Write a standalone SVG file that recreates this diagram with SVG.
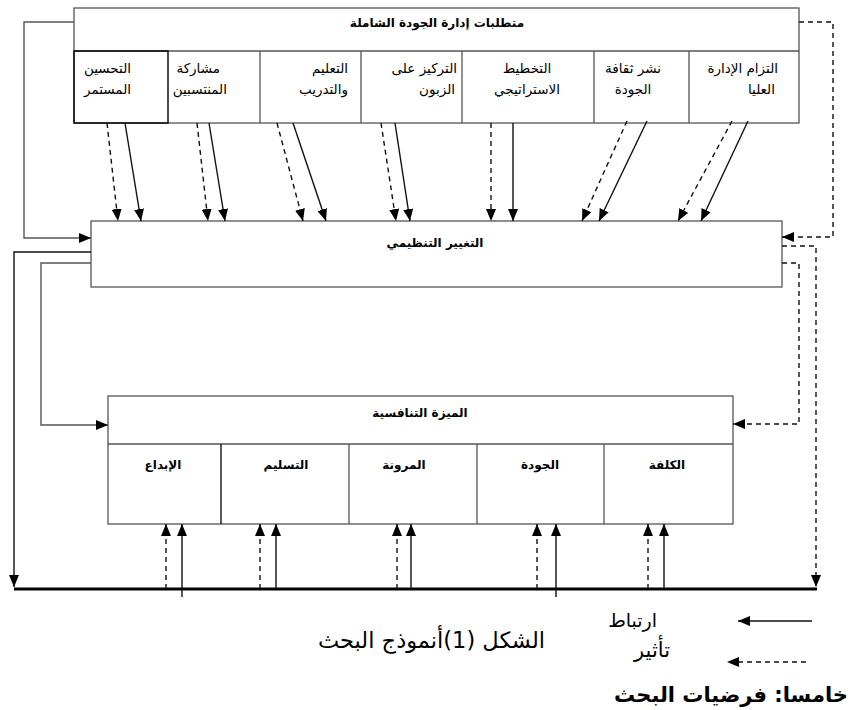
<svg xmlns="http://www.w3.org/2000/svg" width="857" height="710" viewBox="0 0 857 710">
<style>
.box{fill:#fff;stroke:#555;stroke-width:1.3}
.div{fill:none;stroke:#555;stroke-width:1.3}
.t{font-family:"DejaVu Sans",sans-serif;font-size:12px;fill:#000}
.c{font-size:13.5px}
.b{font-weight:bold}
.s{fill:none;stroke:#111;stroke-width:1.4}
.d{fill:none;stroke:#111;stroke-width:1.4;stroke-dasharray:5 4}
.g{fill:none;stroke:#555;stroke-width:1.4}
.sa{marker-end:url(#ah)}
.big{font-family:"DejaVu Sans",sans-serif;font-size:19px;fill:#000}
.cap{font-size:22.5px}
.ttl{font-size:21px}
</style>
<defs>
<marker id="ah" viewBox="0 0 12 10" refX="12" refY="5" markerWidth="12" markerHeight="10" markerUnits="userSpaceOnUse" orient="auto">
<path d="M0,0 L12,5 L0,10 z" fill="#000" stroke="none"/>
</marker>
</defs>

<g id="tqm">
<rect class="box" x="74" y="8" width="725" height="115"/>
<line class="div" x1="74" y1="51" x2="799" y2="51"/>
<line class="div" x1="260" y1="51" x2="260" y2="123"/>
<line class="div" x1="361" y1="51" x2="361" y2="123"/>
<line class="div" x1="462" y1="51" x2="462" y2="123"/>
<line class="div" x1="594" y1="51" x2="594" y2="123"/>
<line class="div" x1="689" y1="51" x2="689" y2="123"/>
<rect x="74" y="51" width="94" height="72" fill="none" stroke="#000" stroke-width="1.4"/>
<text class="t b" x="437" y="27" text-anchor="middle" direction="rtl">متطلبات إدارة الجودة الشاملة</text>
<text class="t c" x="131" y="73" text-anchor="start" direction="rtl">التحسين</text>
<text class="t c" x="131" y="94" text-anchor="start" direction="rtl">المستمر</text>
<text class="t c" x="220" y="73" text-anchor="start" direction="rtl">مشاركة</text>
<text class="t c" x="227" y="94" text-anchor="start" direction="rtl">المنتسبين</text>
<text class="t c" x="348" y="73" text-anchor="start" direction="rtl">التعليم</text>
<text class="t c" x="348" y="94" text-anchor="start" direction="rtl">والتدريب</text>
<text class="t c" x="457" y="73" text-anchor="start" direction="rtl">التركيز على</text>
<text class="t c" x="455" y="94" text-anchor="start" direction="rtl">الزبون</text>
<text class="t c" x="527" y="73" text-anchor="middle" direction="rtl">التخطيط</text>
<text class="t c" x="527" y="94" text-anchor="middle" direction="rtl">الاستراتيجي</text>
<text class="t c" x="633" y="73" text-anchor="middle" direction="rtl">نشر ثقافة</text>
<text class="t c" x="633" y="94" text-anchor="middle" direction="rtl">الجودة</text>
<text class="t c" x="778" y="73" text-anchor="start" direction="rtl">التزام الإدارة</text>
<text class="t c" x="775" y="94" text-anchor="start" direction="rtl">العليا</text>
</g>

<g id="change">
<rect class="box" x="91" y="221" width="691" height="66"/>
<text class="t b" x="435" y="247" text-anchor="middle" direction="rtl">التغيير التنظيمي</text>
</g>

<g id="advantage">
<rect class="box" x="108" y="396" width="625" height="128"/>
<line class="div" x1="108" y1="444" x2="733" y2="444"/>
<line x1="221" y1="444" x2="221" y2="524" stroke="#000" stroke-width="1.3"/>
<line class="div" x1="349" y1="444" x2="349" y2="524"/>
<line class="div" x1="477" y1="444" x2="477" y2="524"/>
<line class="div" x1="604" y1="444" x2="604" y2="524"/>
<text class="t b" x="420" y="417" text-anchor="middle" direction="rtl">الميزة التنافسية</text>
<text class="t b" x="163" y="469" text-anchor="middle" direction="rtl">الإبداع</text>
<text class="t b" x="286" y="469" text-anchor="middle" direction="rtl">التسليم</text>
<text class="t b" x="404" y="469" text-anchor="middle" direction="rtl">المرونة</text>
<text class="t b" x="540" y="469" text-anchor="middle" direction="rtl">الجودة</text>
<text class="t b" x="667" y="469" text-anchor="middle" direction="rtl">الكلفة</text>
</g>

<g id="connectors">
<line class="d sa" x1="107" y1="123" x2="118" y2="221"/>
<line class="s sa" x1="125" y1="123" x2="141" y2="221"/>
<line class="d sa" x1="197" y1="123" x2="208" y2="221"/>
<line class="s sa" x1="209" y1="123" x2="225" y2="221"/>
<line class="d sa" x1="277" y1="123" x2="303" y2="221"/>
<line class="s sa" x1="293" y1="123" x2="326" y2="221"/>
<line class="d sa" x1="381" y1="123" x2="396" y2="221"/>
<line class="s sa" x1="395" y1="123" x2="410" y2="221"/>
<line class="d sa" x1="491" y1="123" x2="491" y2="221"/>
<line class="s sa" x1="513" y1="123" x2="513" y2="221"/>
<line class="d sa" x1="627" y1="121" x2="582" y2="221"/>
<line class="s sa" x1="647" y1="121" x2="599" y2="221"/>
<line class="d sa" x1="732" y1="121" x2="678" y2="221"/>
<line class="s sa" x1="748" y1="121" x2="701" y2="221"/>

<polyline class="g sa" points="74,22 24,22 24,238 91,238"/>
<polyline class="s sa" points="91,252 14,252 14,587"/>
<polyline class="g sa" points="91,263 41,263 41,425 108,425"/>

<polyline class="d sa" points="799,22 833,22 833,237 782,237"/>
<polyline class="d sa" points="782,246 816,246 816,587"/>
<polyline class="d sa" points="782,263 799,263 799,424 733,424"/>

<line x1="14" y1="589" x2="817" y2="589" stroke="#000" stroke-width="3"/>

<line class="d sa" x1="166" y1="589" x2="166" y2="524"/>
<line class="s sa" x1="182" y1="597" x2="182" y2="524"/>
<line class="d sa" x1="260" y1="589" x2="260" y2="524"/>
<line class="s sa" x1="276" y1="589" x2="276" y2="524"/>
<line class="d sa" x1="397" y1="589" x2="397" y2="524"/>
<line class="s sa" x1="411" y1="589" x2="411" y2="524"/>
<line class="d sa" x1="537" y1="589" x2="537" y2="524"/>
<line class="s sa" x1="556" y1="597" x2="556" y2="524"/>
<line class="d sa" x1="648" y1="589" x2="648" y2="524"/>
<line class="s sa" x1="664" y1="589" x2="664" y2="524"/>

<line class="s sa" x1="812" y1="621" x2="738" y2="621"/>
<line class="d sa" x1="806" y1="662" x2="727" y2="662"/>
</g>

<g id="legend-text">
<text class="big" x="657" y="627" text-anchor="start" direction="rtl">ارتباط</text>
<text class="big" x="670" y="657" text-anchor="start" direction="rtl" style="font-size:21px">تأثير</text>
<text class="big cap" x="545" y="648" text-anchor="start" direction="rtl">الشكل (1)أنموذج البحث</text>
<text class="big b ttl" x="848" y="702" text-anchor="start" direction="rtl">خامسا: فرضيات البحث</text>
</g>
</svg>
